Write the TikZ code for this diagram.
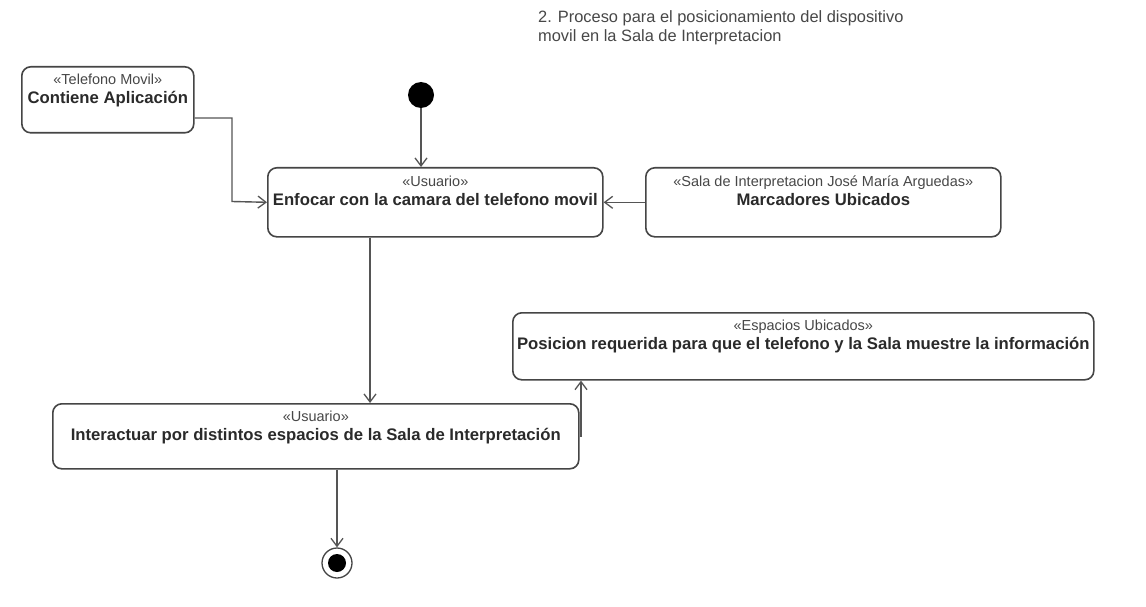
\documentclass[tikz,border=0pt]{standalone}
\usepackage{fontspec}
\setmainfont{Liberation Sans}
\usetikzlibrary{arrows.meta,calc}
\definecolor{boxc}{HTML}{454545}
\definecolor{linec}{HTML}{555555}
\definecolor{txtc}{HTML}{2A2A2A}
\definecolor{stc}{HTML}{474747}
\newcommand\stereofont{\color{stc}\fontsize{14.5}{18}\selectfont\mdseries}
\begin{document}
\begin{tikzpicture}[x=1pt,y=-1pt,
  act/.style={draw=boxc, line width=1.6pt, rounded corners=9pt, fill=white, inner sep=0pt, anchor=north west},
  acttxt/.style={anchor=north, align=center, inner sep=0pt, text=txtc, font=\fontsize{16.7}{18.5}\selectfont\bfseries},
  arr/.style={draw=linec, line width=1.4pt, -{Straight Barb[length=8pt,width=12pt,line width=1.3pt]}}
]
\useasboundingbox (0,0) rectangle (1146,607);
\fill[white] (0,0) rectangle (1146,607);

% title
\node[anchor=north west, align=left, inner sep=0pt, text=stc, font=\fontsize{16.4}{19}\selectfont] (title) at (538,10)
  {2. Proceso para el posicionamiento del dispositivo\\movil en la Sala de Interpretacion};

% boxes
\node[act, minimum width=172pt, minimum height=66pt] (tel) at (21,66) {};
\node[acttxt] (telT) at ($(tel.north)+(0,8)$) {{\stereofont «Telefono Movil»}\\Contiene Aplicación};

\node[act, minimum width=335pt, minimum height=69pt] (enf) at (267,167) {};
\node[acttxt] (enfT) at ($(enf.north)+(0,9)$) {{\stereofont «Usuario»}\\Enfocar con la camara del telefono movil};

\node[act, minimum width=355pt, minimum height=69pt] (sala) at (645,167) {};
\node[acttxt] (salaT) at ($(sala.north)+(0,9)$) {{\stereofont «Sala de Interpretacion José María Arguedas»}\\Marcadores Ubicados};

\node[act, minimum width=581pt, minimum height=67pt] (esp) at (512,312) {};
\node[acttxt] (espT) at ($(esp.north)+(0,8)$) {{\stereofont «Espacios Ubicados»}\\Posicion requerida para que el telefono y la Sala muestre la información};

\node[act, minimum width=526pt, minimum height=65pt] (int) at (52,403) {};
\node[acttxt] (intT) at ($(int.north)+(0,8)$) {{\stereofont «Usuario»}\\Interactuar por distintos espacios de la Sala de Interpretación};

% initial and final
\node[circle, fill=black, minimum size=26pt, inner sep=0pt] (init) at (421,95) {};
\node[circle, draw=boxc, line width=1.3pt, fill=white, minimum size=30pt, inner sep=0pt] (final) at (337,563) {};
\node[circle, fill=black, minimum size=18pt, inner sep=0pt] (finalIn) at (final.center) {};

% connectors
\draw[arr] (init) -- (init |- enf.north);
\draw[arr] (enf.south -| 370,0) -- (int.north -| 370,0);
\draw[arr] (final |- int.south) -- (final);
\draw[arr] (tel.east |- 0,118) -| (232,201.5) -- (enf.west);
\draw[arr] (sala.west) -- (enf.east);
\draw[arr] (int.east) -| (esp.south -| 581,0);
\end{tikzpicture}
\end{document}
